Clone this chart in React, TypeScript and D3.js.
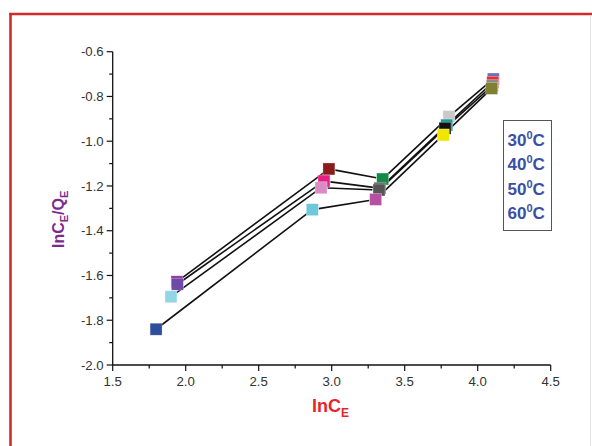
import React from "react";
import * as d3 from "d3";

const temps = ["30", "40", "50", "60"];
const xS1 = [1.94, 2.981, 3.349, 3.803, 4.107];
const yS1 = [-1.628, -1.124, -1.169, -0.89, -0.722];
const xS2 = [1.943, 2.947, 3.33, 3.788, 4.103];
const yS2 = [-1.639, -1.178, -1.21, -0.928, -0.737];
const xS3 = [1.899, 2.927, 3.324, 3.776, 4.1];
const yS3 = [-1.695, -1.208, -1.218, -0.942, -0.752];
const xS4 = [1.797, 2.867, 3.301, 3.764, 4.096];
const yS4 = [-1.84, -1.306, -1.26, -0.972, -0.764];
const xTicks = [1.5, 2.0, 2.5, 3.0, 3.5, 4.0, 4.5];
const yTicks = [-2.0, -1.8, -1.6, -1.4, -1.2, -1.0, -0.8, -0.6];

const colors = [
  ["#8e3a98", "#8b1a1e", "#138a45", "#c9c9c9", "#6f6fb8"],
  ["#6e4aa6", "#e81e84", "#5a5a5a", "#1a9a9a", "#e63030"],
  ["#92d6e6", "#d98cc4", "#555555", "#111111", "#8a8a8a"],
  ["#2f4d9e", "#6cc8da", "#b650a2", "#f2e600", "#808033"],
];

export default function App() {
  const W = 592, H = 446;
  const x = d3.scaleLinear().domain([1.5, 4.5]).range([112.7, 550.7]);
  const y = d3.scaleLinear().domain([-2.0, -0.6]).range([365, 51.7]);
  const series = [
    [xS1, yS1],
    [xS2, yS2],
    [xS3, yS3],
    [xS4, yS4],
  ].map(([xs, ys]) => xs.map((v, i) => [x(v), y(ys[i])] as [number, number]));

  const gap = 6.5;
  const segs: { x1: number; y1: number; x2: number; y2: number }[] = [];
  series.forEach((pts) => {
    for (let i = 0; i < pts.length - 1; i++) {
      const [ax, ay] = pts[i];
      const [bx, by] = pts[i + 1];
      const d = Math.hypot(bx - ax, by - ay);
      if (d <= 2 * gap) continue;
      const ux = (bx - ax) / d, uy = (by - ay) / d;
      segs.push({ x1: ax + ux * gap, y1: ay + uy * gap, x2: bx - ux * gap, y2: by - uy * gap });
    }
  });

  const xMinor = d3.range(1.5, 4.5001, 0.25);
  const yMinor = d3.range(-2.0, -0.5999, 0.1);
  const ms = 12;
  const font = "'Liberation Sans', Arial, sans-serif";

  return (
    <svg width={W} height={H} style={{ position: "absolute", left: 0, top: 0, background: "#fff" }}>
      <rect x={0} y={0} width={W} height={H} fill="#fff" />
      {/* frame */}
      <line x1={10.5} y1={13} x2={10.5} y2={H} stroke="#d42a2a" strokeWidth={2.6} />
      <line x1={9.2} y1={14} x2={W} y2={14} stroke="#d42a2a" strokeWidth={2.6} />
      <line x1={590.5} y1={15} x2={590.5} y2={H} stroke="#e4e4e4" strokeWidth={1} />

      {/* axes */}
      <line x1={x(1.5)} y1={y(-0.6)} x2={x(1.5)} y2={y(-2.0)} stroke="#111" strokeWidth={1.3} />
      <line x1={x(1.5)} y1={y(-2.0)} x2={x(4.5)} y2={y(-2.0)} stroke="#111" strokeWidth={1.3} />
      {xMinor.map((t, i) => (
        <line key={"xm" + i} x1={x(t)} x2={x(t)} y1={y(-2.0)} y2={y(-2.0) + (i % 2 === 0 ? 6 : 3.5)} stroke="#111" strokeWidth={1.2} />
      ))}
      {yMinor.map((t, i) => (
        <line key={"ym" + i} x1={x(1.5)} x2={x(1.5) - (i % 2 === 0 ? 6 : 3.5)} y1={y(t)} y2={y(t)} stroke="#111" strokeWidth={1.2} />
      ))}
      {xTicks.map((t) => (
        <text key={"xt" + t} x={x(t)} y={y(-2.0) + 20.5} textAnchor="middle" fontFamily={font} fontSize={13.2} fill="#333">
          {t.toFixed(1)}
        </text>
      ))}
      {yTicks.map((t) => (
        <text key={"yt" + t} x={x(1.5) - 9} y={y(t) + 4.6} textAnchor="end" fontFamily={font} fontSize={13.2} fill="#333">
          {t.toFixed(1)}
        </text>
      ))}

      {/* lines */}
      {segs.map((s, i) => (
        <line key={"s" + i} x1={s.x1} y1={s.y1} x2={s.x2} y2={s.y2} stroke="#111" strokeWidth={1.6} />
      ))}
      {/* markers */}
      {series.map((pts, si) =>
        pts.map(([px, py], pi) => (
          <rect key={"m" + si + "-" + pi} x={px - ms / 2} y={py - ms / 2} width={ms} height={ms} fill={colors[si][pi]} stroke="#ffffff" strokeOpacity={0.5} strokeWidth={0.6} />
        ))
      )}

      {/* legend */}
      <rect x={503.5} y={120.5} width={48} height={110} fill="#fff" stroke="#555" strokeWidth={1} />
      {temps.map((t, i) => (
        <text key={"lg" + t} x={507.5} y={146 + i * 24.4} fontFamily={font} fontSize={17} fontWeight="bold" fill="#3a4fa6">
          {t}
          <tspan fontSize={11} dy={-7}>0</tspan>
          <tspan dy={7}>C</tspan>
        </text>
      ))}

      {/* axis titles */}
      <text x={312} y={412} fontFamily={font} fontSize={18} fontWeight="bold" fill="#e8242a">
        InC<tspan fontSize={12} dy={5}>E</tspan>
      </text>
      <text transform="translate(63.5,248) rotate(-90)" fontFamily={font} fontSize={16} fontWeight="bold" fill="#7d2a8e">
        InC<tspan fontSize={11} dy={4}>E</tspan>
        <tspan dy={-4}>/Q</tspan>
        <tspan fontSize={11} dy={4}>E</tspan>
      </text>
    </svg>
  );
}
